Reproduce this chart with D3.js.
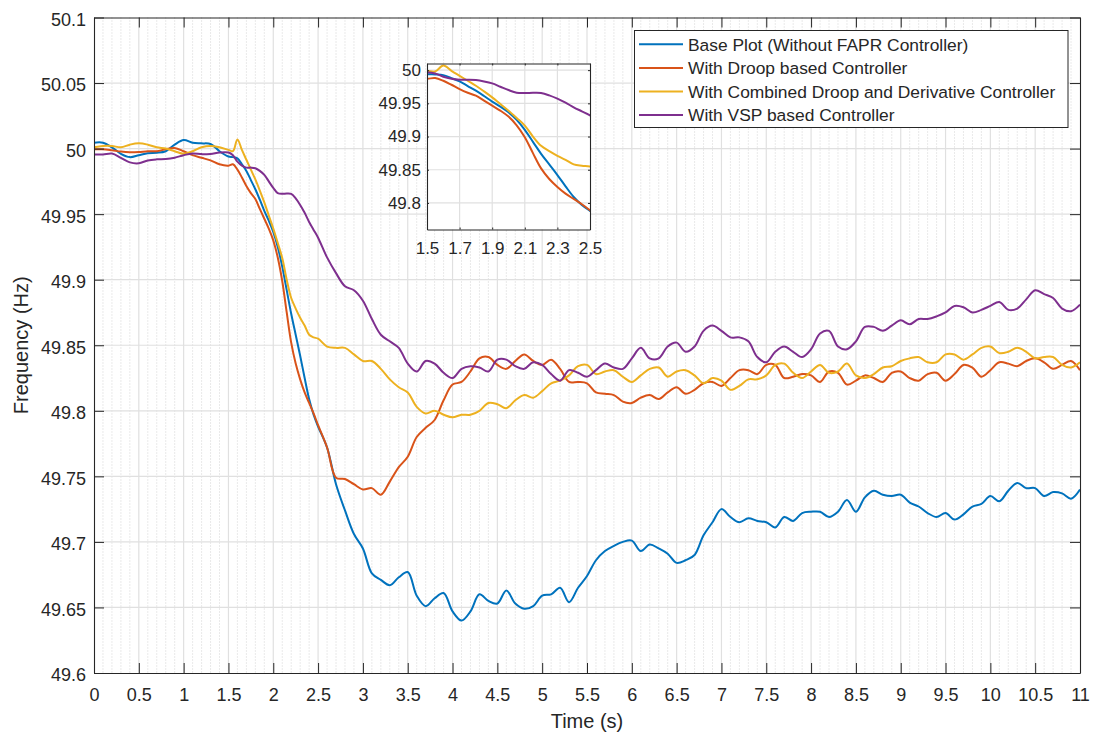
<!DOCTYPE html>
<html>
<head>
<meta charset="utf-8">
<script src="https://cdn.jsdelivr.net/npm/d3@7"></script>
<style>
  body { margin: 0; background: #ffffff; }
  text { font-family: "Liberation Sans", Arial, Helvetica, sans-serif; fill: #262626; }
</style>
</head>
<body>
<svg id="chart" width="1093" height="736"></svg>
<script>
// Sample times (s): 0.1 s steps, 0.05 s steps through the 1.5–2.5 s zoom window
const time = [].concat(
  d3.range(0, 15).map(i => +(i * 0.1).toFixed(2)),
  d3.range(0, 20).map(i => +(1.5 + i * 0.05).toFixed(2)),
  d3.range(0, 86).map(i => +(2.5 + i * 0.1).toFixed(2))
);

// Frequency (Hz) for each case, one value per sample time
const basePlot = [
  50.0045, 50.0045, 50.001, 49.996, 49.9935, 49.995, 49.9965, 49.9968, 49.998, 50.003, 50.0065, 50.0045, 50.004, 50.0035, 49.998,
  49.994, 49.9935, 49.9925, 49.988, 49.983, 49.976, 49.969, 49.961, 49.9525, 49.945, 49.9365, 49.925, 49.910, 49.892, 49.874, 49.858, 49.842, 49.825, 49.809, 49.797,
  49.788, 49.772, 49.744, 49.724, 49.706, 49.695, 49.676, 49.671, 49.667, 49.673,
  49.677, 49.659, 49.651, 49.657, 49.661, 49.647, 49.640, 49.647, 49.660, 49.655,
  49.653, 49.663, 49.653, 49.649, 49.651, 49.659, 49.660, 49.665, 49.654, 49.665,
  49.674, 49.686, 49.693, 49.697, 49.700, 49.701, 49.693, 49.698, 49.695, 49.691,
  49.684, 49.686, 49.690, 49.705, 49.715, 49.725, 49.719, 49.715, 49.718, 49.716,
  49.715, 49.711, 49.719, 49.716, 49.722, 49.723, 49.723, 49.719, 49.723, 49.732,
  49.723, 49.734, 49.739, 49.736, 49.735, 49.736, 49.730, 49.727, 49.722, 49.719,
  49.722, 49.717, 49.721, 49.727, 49.729, 49.735, 49.731, 49.739, 49.745, 49.741,
  49.741, 49.735, 49.738, 49.737, 49.733, 49.740
];
const droop = [
  49.9995, 49.9995, 49.9987, 49.9977, 49.9972, 49.9974, 49.998, 49.998, 49.9995, 50.0005, 49.998, 49.995, 49.993, 49.991, 49.988,
  49.987, 49.988, 49.984, 49.978, 49.9715, 49.966, 49.9615, 49.954, 49.9465, 49.939, 49.930, 49.917, 49.899, 49.875, 49.852, 49.836, 49.824, 49.814, 49.806, 49.798,
  49.789, 49.772, 49.749, 49.748, 49.744, 49.740, 49.741, 49.736, 49.746, 49.757,
  49.765, 49.780, 49.787, 49.793, 49.808, 49.820, 49.822, 49.830, 49.840, 49.841,
  49.835, 49.832, 49.838, 49.843, 49.838, 49.835, 49.839, 49.832, 49.822, 49.822,
  49.821, 49.814, 49.813, 49.812, 49.807, 49.806, 49.810, 49.812, 49.809, 49.814,
  49.818, 49.813, 49.816, 49.821, 49.822, 49.819, 49.825, 49.831, 49.831, 49.828,
  49.835, 49.835, 49.825, 49.826, 49.828, 49.827, 49.822, 49.830, 49.829, 49.820,
  49.823, 49.827, 49.825, 49.822, 49.829, 49.830, 49.825, 49.823, 49.828, 49.829,
  49.823, 49.828, 49.835, 49.833, 49.826, 49.831, 49.837, 49.836, 49.834, 49.838,
  49.840, 49.837, 49.832, 49.835, 49.838, 49.831
];
const droopDerivative = [
  50.001, 50.002, 50.002, 50.001, 50.003, 50.004, 50.003, 50.001, 50.000, 49.998, 49.996, 49.998, 50.001, 50.002, 50.001,
  49.999, 49.998, 50.007, 49.999, 49.9915, 49.984, 49.9765, 49.968, 49.959, 49.949, 49.939, 49.928, 49.9165, 49.900, 49.886, 49.878, 49.871, 49.865, 49.858, 49.856,
  49.855, 49.849, 49.848, 49.848, 49.843, 49.838, 49.838, 49.832, 49.824, 49.818,
  49.814, 49.803, 49.798, 49.800, 49.797, 49.795, 49.797, 49.797, 49.800, 49.806,
  49.805, 49.802, 49.808, 49.812, 49.810, 49.815, 49.821, 49.823, 49.827, 49.834,
  49.835, 49.828, 49.830, 49.831, 49.826, 49.822, 49.827, 49.832, 49.833, 49.826,
  49.830, 49.831, 49.827, 49.821, 49.825, 49.823, 49.816, 49.819, 49.824, 49.824,
  49.827, 49.835, 49.836, 49.829, 49.825, 49.830, 49.835, 49.829, 49.830, 49.836,
  49.827, 49.825, 49.828, 49.833, 49.834, 49.838, 49.840, 49.841, 49.837, 49.837,
  49.843, 49.843, 49.839, 49.843, 49.848, 49.849, 49.844, 49.845, 49.848, 49.845,
  49.840, 49.841, 49.841, 49.835, 49.833, 49.837
];
const vsp = [
  49.9955, 49.9955, 49.9962, 49.993, 49.9895, 49.9888, 49.991, 49.9918, 49.992, 49.993, 49.995, 49.9963, 49.9958, 49.9958, 49.997,
  49.997, 49.995, 49.990, 49.987, 49.9855, 49.9855, 49.985, 49.983, 49.980, 49.975, 49.970, 49.966, 49.9655, 49.9658, 49.9655, 49.962, 49.957, 49.951, 49.944, 49.938,
  49.932, 49.917, 49.905, 49.895, 49.892, 49.884, 49.870, 49.858, 49.853, 49.848,
  49.836, 49.830, 49.838, 49.836, 49.829, 49.825, 49.832, 49.834, 49.833, 49.830,
  49.839, 49.839, 49.834, 49.832, 49.837, 49.835, 49.828, 49.823, 49.831, 49.829,
  49.826, 49.831, 49.836, 49.833, 49.832, 49.840, 49.848, 49.840, 49.840, 49.849,
  49.852, 49.845, 49.849, 49.861, 49.865, 49.861, 49.856, 49.856, 49.853, 49.841,
  49.837, 49.845, 49.849, 49.845, 49.841, 49.847, 49.859, 49.861, 49.849, 49.847,
  49.853, 49.864, 49.864, 49.861, 49.865, 49.869, 49.866, 49.870, 49.870, 49.872,
  49.875, 49.880, 49.879, 49.875, 49.877, 49.880, 49.883, 49.877, 49.878, 49.885,
  49.892, 49.889, 49.886, 49.878, 49.876, 49.881
];

const seriesNames = [
  "Base Plot (Without FAPR Controller)",
  "With Droop based Controller",
  "With Combined Droop and Derivative Controller",
  "With VSP based Controller"
];
const seriesColors = ["#0072BD", "#D95319", "#EDB120", "#7E2F8E"];
const seriesValues = [basePlot, droop, droopDerivative, vsp];

const xTicks = [0, 0.5, 1, 1.5, 2, 2.5, 3, 3.5, 4, 4.5, 5, 5.5, 6, 6.5, 7, 7.5, 8, 8.5, 9, 9.5, 10, 10.5, 11];
const yTicks = [49.6, 49.65, 49.7, 49.75, 49.8, 49.85, 49.9, 49.95, 50, 50.05, 50.1];
const insetXTicks = [1.5, 1.7, 1.9, 2.1, 2.3, 2.5];
const insetYTicks = [49.8, 49.85, 49.9, 49.95, 50];

const xLabel = "Time (s)";
const yLabel = "Frequency (Hz)";

// ---------------------------------------------------------------- layout
const svg = d3.select("#chart");
const plot = { left: 94, right: 1080, top: 17.5, bottom: 673 };
const x = d3.scaleLinear().domain([0, 11]).range([plot.left, plot.right]);
const y = d3.scaleLinear().domain([49.6, 50.1]).range([plot.bottom, plot.top]);

const data = seriesValues.map((vals, k) => ({
  name: seriesNames[k],
  color: seriesColors[k],
  points: time.map((t, i) => [t, vals[i]])
}));

svg.append("rect").attr("width", 1093).attr("height", 736).attr("fill", "#fff");

const defs = svg.append("defs");
defs.append("clipPath").attr("id", "main-clip")
  .append("rect")
  .attr("x", plot.left).attr("y", plot.top)
  .attr("width", plot.right - plot.left).attr("height", plot.bottom - plot.top);

// minor vertical grid every 0.1 s (dotted)
const minorX = d3.range(1, 110).map(i => i / 10).filter(v => Math.abs(v * 2 - Math.round(v * 2)) > 1e-6);
const grid = svg.append("g");
grid.selectAll(".minor").data(minorX).join("line")
  .attr("x1", d => x(d)).attr("x2", d => x(d))
  .attr("y1", plot.top).attr("y2", plot.bottom)
  .attr("stroke", "#c9c9c9").attr("stroke-width", 0.8).attr("stroke-dasharray", "1,2");

// major grid
grid.selectAll(".gx").data(xTicks.slice(1, -1)).join("line")
  .attr("x1", d => x(d)).attr("x2", d => x(d))
  .attr("y1", plot.top).attr("y2", plot.bottom)
  .attr("stroke", "#e0e0e0").attr("stroke-width", 1.2);
grid.selectAll(".gy").data(yTicks.slice(1, -1)).join("line")
  .attr("y1", d => y(d)).attr("y2", d => y(d))
  .attr("x1", plot.left).attr("x2", plot.right)
  .attr("stroke", "#e0e0e0").attr("stroke-width", 1.2);

// curves
const line = d3.line()
  .x(d => x(d[0])).y(d => y(d[1]))
  .curve(d3.curveCatmullRom.alpha(0.5));

svg.append("g").attr("clip-path", "url(#main-clip)")
  .selectAll("path").data(data).join("path")
  .attr("d", d => line(d.points))
  .attr("fill", "none")
  .attr("stroke", d => d.color)
  .attr("stroke-width", 2)
  .attr("stroke-linejoin", "round");

// axes: box with inward ticks on all four sides
const axisColor = "#262626";
function styleAxis(g) {
  g.selectAll(".domain").attr("stroke", axisColor).attr("stroke-width", 1.1);
  g.selectAll(".tick line").attr("stroke", axisColor).attr("stroke-width", 1);
  g.selectAll(".tick text").attr("fill", axisColor).style("font-size", "18px")
    .style("font-family", '"Liberation Sans", Arial, sans-serif');
}
const fmt = d => String(d);

svg.append("g").attr("transform", `translate(0,${plot.bottom})`)
  .call(d3.axisBottom(x).tickValues(xTicks).tickFormat(fmt).tickSizeInner(-10).tickSizeOuter(0).tickPadding(15))
  .call(styleAxis);
svg.append("g").attr("transform", `translate(0,${plot.top})`)
  .call(d3.axisTop(x).tickValues(xTicks).tickFormat("").tickSizeInner(-10).tickSizeOuter(0))
  .call(styleAxis);
svg.append("g").attr("transform", `translate(${plot.left},0)`)
  .call(d3.axisLeft(y).tickValues(yTicks).tickFormat(fmt).tickSizeInner(-10).tickSizeOuter(0).tickPadding(8))
  .call(styleAxis)
  .call(g => g.selectAll(".tick text").attr("dy", "0.44em"));
svg.append("g").attr("transform", `translate(${plot.right},0)`)
  .call(d3.axisRight(y).tickValues(yTicks).tickFormat("").tickSizeInner(-10).tickSizeOuter(0))
  .call(styleAxis);

// axis titles
svg.append("text")
  .attr("x", (plot.left + plot.right) / 2).attr("y", 728)
  .attr("text-anchor", "middle").style("font-size", "20px")
  .text(xLabel);
svg.append("text")
  .attr("transform", `translate(28,${(plot.top + plot.bottom) / 2}) rotate(-90)`)
  .attr("text-anchor", "middle").style("font-size", "20px")
  .text(yLabel);

// ---------------------------------------------------------------- inset (1.5–2.5 s)
const inset = { left: 427, right: 590, top: 63.5, bottom: 229.5 };
const ix = d3.scaleLinear().domain([1.5, 2.5]).range([inset.left, inset.right]);
const iy = d3.scaleLinear().domain([49.76, 50.01]).range([inset.bottom, inset.top]);

defs.append("clipPath").attr("id", "inset-clip")
  .append("rect")
  .attr("x", inset.left).attr("y", inset.top)
  .attr("width", inset.right - inset.left).attr("height", inset.bottom - inset.top);

const ig = svg.append("g");
ig.append("rect")
  .attr("x", inset.left).attr("y", inset.top)
  .attr("width", inset.right - inset.left).attr("height", inset.bottom - inset.top)
  .attr("fill", "#fff");
ig.selectAll(".igx").data(insetXTicks.slice(1, -1)).join("line")
  .attr("x1", d => ix(d)).attr("x2", d => ix(d))
  .attr("y1", inset.top).attr("y2", inset.bottom)
  .attr("stroke", "#e0e0e0").attr("stroke-width", 1.2);
ig.selectAll(".igy").data(insetYTicks).join("line")
  .attr("y1", d => iy(d)).attr("y2", d => iy(d))
  .attr("x1", inset.left).attr("x2", inset.right)
  .attr("stroke", "#e0e0e0").attr("stroke-width", 1.2);

const iline = d3.line()
  .x(d => ix(d[0])).y(d => iy(d[1]))
  .curve(d3.curveCatmullRom.alpha(0.5));
ig.append("g").attr("clip-path", "url(#inset-clip)")
  .selectAll("path").data(data).join("path")
  .attr("d", d => iline(d.points.filter(p => p[0] >= 1.4 && p[0] <= 2.6)))
  .attr("fill", "none")
  .attr("stroke", d => d.color)
  .attr("stroke-width", 2)
  .attr("stroke-linejoin", "round");

function styleInset(g) {
  styleAxis(g);
  g.selectAll(".tick text").style("font-size", "17px");
}
ig.append("g").attr("transform", `translate(0,${inset.bottom})`)
  .call(d3.axisBottom(ix).tickValues(insetXTicks).tickFormat(fmt).tickSizeInner(-2).tickSizeOuter(0).tickPadding(12))
  .call(styleInset);
ig.append("g").attr("transform", `translate(0,${inset.top})`)
  .call(d3.axisTop(ix).tickValues(insetXTicks).tickFormat("").tickSizeInner(-2).tickSizeOuter(0))
  .call(styleInset);
ig.append("g").attr("transform", `translate(${inset.left},0)`)
  .call(d3.axisLeft(iy).tickValues(insetYTicks).tickFormat(fmt).tickSizeInner(-2).tickSizeOuter(0).tickPadding(6))
  .call(styleInset);
ig.append("g").attr("transform", `translate(${inset.right},0)`)
  .call(d3.axisRight(iy).tickValues(insetYTicks).tickFormat("").tickSizeInner(-2).tickSizeOuter(0))
  .call(styleInset);

// ---------------------------------------------------------------- legend
const legend = svg.append("g");
const lg = { x: 634.5, y: 30.5, w: 433.5, h: 97 };
legend.append("rect")
  .attr("x", lg.x).attr("y", lg.y).attr("width", lg.w).attr("height", lg.h)
  .attr("fill", "#fff").attr("stroke", axisColor).attr("stroke-width", 1);
const rows = legend.selectAll(".row").data(data).join("g")
  .attr("transform", (d, i) => `translate(0,${44.3 + i * 23.6})`);
rows.append("line")
  .attr("x1", 639).attr("x2", 683).attr("y1", 0).attr("y2", 0)
  .attr("stroke", d => d.color).attr("stroke-width", 2);
rows.append("text")
  .attr("x", 688).attr("y", 0).attr("dy", "0.36em")
  .style("font-size", "17.4px")
  .text(d => d.name);
</script>
</body>
</html>
